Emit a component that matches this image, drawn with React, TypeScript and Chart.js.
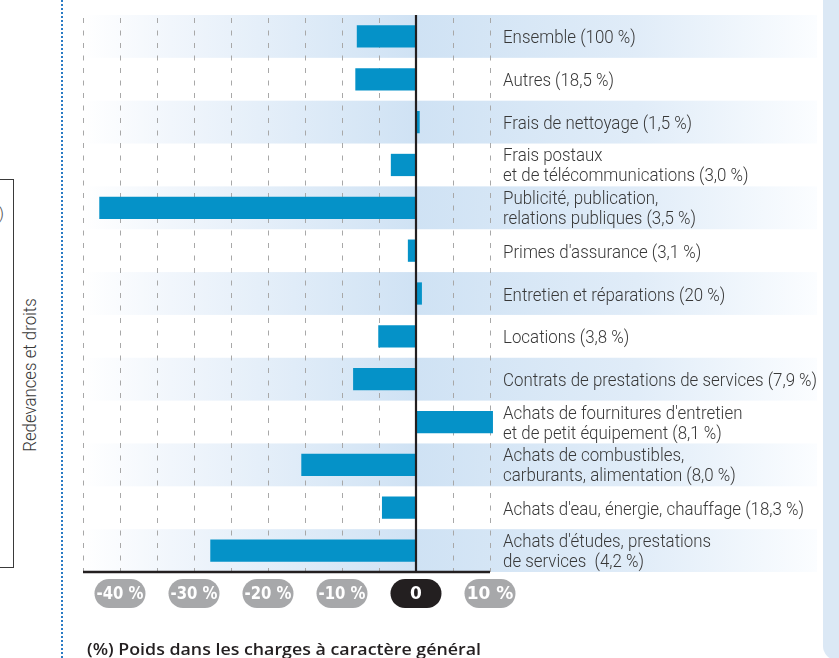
import React, { useEffect, useRef } from 'react';
import { Chart, registerables } from 'chart.js';

Chart.register(...registerables);

const categories: string[][] = [
  ['Ensemble (100 %)'],
  ['Autres (18,5 %)'],
  ['Frais de nettoyage (1,5 %)'],
  ['Frais postaux', 'et de télécommunications (3,0 %)'],
  ['Publicité, publication,', 'relations publiques (3,5 %)'],
  ["Primes d'assurance (3,1 %)"],
  ['Entretien et réparations (20 %)'],
  ['Locations (3,8 %)'],
  ['Contrats de prestations de services (7,9 %)'],
  ["Achats de fournitures d'entretien", 'et de petit équipement (8,1 %)'],
  ['Achats de combustibles,', 'carburants, alimentation (8,0 %)'],
  ["Achats d'eau, énergie, chauffage (18,3 %)"],
  ["Achats d'études, prestations", 'de services  (4,2 %)'],
];

const values: number[] = [-8.0, -8.2, 0.5, -3.4, -42.8, -1.1, 0.8, -5.1, -8.5, 10.4, -15.5, -4.6, -27.8];

const tickValues: number[] = [-40, -30, -20, -10, 0, 10];
const tickLabels: string[] = ['-40 %', '-30 %', '-20 %', '-10 %', '0', '10 %'];
const gridValues: number[] = [-45, -40, -35, -30, -25, -20, -15, -10, -5, 5, 10];
const axisMin = -45;
const axisMax = 10;
const title = '(%) Poids dans les charges à caractère général';
const sideLabel = 'Redevances et droits';

const LABEL_FONT = '300 17.5px Roboto';
const LABEL_SX = 0.965;
const TEXT_COLOR = '#383838';

const decorPlugin = {
  id: 'decor',
  beforeDatasetsDraw(chart: any) {
    const { ctx, chartArea, scales } = chart;
    const x = scales.x;
    const y = scales.y;
    const rowH = Math.abs(y.getPixelForValue(1) - y.getPixelForValue(0));
    const bandLeft = chartArea.left;
    const bandRight = chart.width - 22;
    const zeroPx = x.getPixelForValue(0);
    const grad = ctx.createLinearGradient(bandLeft, 0, bandRight, 0);
    const zf = (zeroPx - bandLeft) / (bandRight - bandLeft);
    grad.addColorStop(0, '#ffffff');
    grad.addColorStop(0.12, '#f1f6fc');
    grad.addColorStop(zf, '#cfe2f4');
    grad.addColorStop(zf + 0.3, '#e0ecf8');
    grad.addColorStop(1, '#fbfdff');
    ctx.save();
    for (let i = 0; i < categories.length; i += 2) {
      const cy = y.getPixelForValue(i);
      ctx.fillStyle = grad;
      ctx.fillRect(bandLeft, cy - rowH / 2, bandRight - bandLeft, rowH);
    }
    ctx.strokeStyle = '#a8a8a8';
    ctx.lineWidth = 1;
    ctx.setLineDash([5, 7.5]);
    for (const v of gridValues) {
      const px = Math.round(x.getPixelForValue(v)) + 0.5;
      ctx.beginPath();
      ctx.moveTo(px, chartArea.top + 3);
      ctx.lineTo(px, chartArea.bottom);
      ctx.stroke();
    }
    ctx.restore();
  },
  afterDatasetsDraw(chart: any) {
    const { ctx, chartArea, scales } = chart;
    const x = scales.x;
    const y = scales.y;
    const zeroPx = x.getPixelForValue(0);
    const rightPx = x.getPixelForValue(axisMax);
    ctx.save();
    // zero axis
    ctx.strokeStyle = '#231f20';
    ctx.lineWidth = 2.2;
    ctx.beginPath();
    ctx.moveTo(zeroPx, chartArea.top);
    ctx.lineTo(zeroPx, chartArea.bottom + 1);
    ctx.stroke();
    // bottom axis
    ctx.lineWidth = 2.5;
    ctx.beginPath();
    ctx.moveTo(chartArea.left, chartArea.bottom);
    ctx.lineTo(rightPx, chartArea.bottom);
    ctx.stroke();

    // category labels
    ctx.font = LABEL_FONT;
    ctx.fillStyle = TEXT_COLOR;
    ctx.textAlign = 'left';
    ctx.textBaseline = 'alphabetic';
    const lx = rightPx + 13;
    categories.forEach((lines, i) => {
      const cy = y.getPixelForValue(i);
      const draw = (t: string, by: number) => {
        ctx.save();
        ctx.translate(lx, by);
        ctx.scale(LABEL_SX, 1);
        ctx.fillText(t, 0, 0);
        ctx.restore();
      };
      if (lines.length === 1) {
        draw(lines[0], cy + 7);
      } else {
        draw(lines[0], cy - 3.5);
        draw(lines[1], cy + 16.5);
      }
    });

    // tick pills
    const pw = 51;
    const ph = 29;
    const pcy = chartArea.bottom + 21.5;
    tickValues.forEach((v, i) => {
      const cx = x.getPixelForValue(v);
      ctx.fillStyle = v === 0 ? '#231f20' : '#a7a8aa';
      ctx.beginPath();
      ctx.roundRect(cx - pw / 2, pcy - ph / 2, pw, ph, ph / 2);
      ctx.fill();
      ctx.fillStyle = '#ffffff';
      ctx.font = 'bold 17px "DejaVu Sans"';
      ctx.textAlign = 'center';
      ctx.textBaseline = 'middle';
      ctx.fillText(tickLabels[i], cx, pcy + 1, 47);
    });

    // title
    ctx.fillStyle = '#231f20';
    ctx.font = '600 17px "Open Sans"';
    ctx.textAlign = 'left';
    ctx.textBaseline = 'alphabetic';
    const tw = ctx.measureText(title).width;
    ctx.save();
    ctx.translate(87, 655);
    ctx.scale(394 / tw, 1);
    ctx.fillText(title, 0, 0);
    ctx.restore();
    ctx.restore();
  },
};

export default function App() {
  const canvasRef = useRef<HTMLCanvasElement | null>(null);

  useEffect(() => {
    const canvas = canvasRef.current;
    if (!canvas) return;
    const chart = new Chart(canvas, {
      type: 'bar',
      data: {
        labels: categories.map((c) => c.join(' ')),
        datasets: [
          {
            data: values,
            backgroundColor: '#0592c8',
            barPercentage: 0.52,
            categoryPercentage: 1,
            borderWidth: 0,
            clip: false,
          } as any,
        ],
      },
      options: {
        indexAxis: 'y',
        animation: false,
        responsive: false,
        devicePixelRatio: 1,
        layout: { padding: { left: 83, right: 349, top: 15, bottom: 86 } },
        plugins: { legend: { display: false }, tooltip: { enabled: false } },
        scales: {
          x: { type: 'linear', min: axisMin, max: axisMax, display: false },
          y: { type: 'category', display: false },
        },
      },
      plugins: [decorPlugin],
    });
    return () => chart.destroy();
  }, []);

  return (
    <div style={{ position: 'absolute', left: 0, top: 0, width: 839, height: 658, overflow: 'hidden', background: '#ffffff' }}>
      <div style={{ position: 'absolute', left: 823, top: 0, width: 30, height: 660, background: '#dbe8f5', borderBottomLeftRadius: 14 }} />
      <div style={{ position: 'absolute', left: -20, top: 179, width: 32, height: 387, border: '1.5px solid #3a3a3a' }} />
      <div style={{ position: 'absolute', left: -14, top: 203, font: '300 17px Roboto', color: '#555' }}>%)</div>
      <div
        style={{
          position: 'absolute',
          left: 30,
          top: 375,
          transform: 'translate(-50%, -50%) rotate(-90deg) scaleX(0.96)',
          font: '300 17.5px Roboto',
          color: TEXT_COLOR,
          whiteSpace: 'nowrap',
        }}
      >
        {sideLabel}
      </div>
      <div style={{ position: 'absolute', left: 61, top: 0, width: 0, height: 658, borderLeft: '2.5px dotted #2b7bc4' }} />
      <canvas ref={canvasRef} width={839} height={658} style={{ position: 'absolute', left: 0, top: 0, width: 839, height: 658 }} />
    </div>
  );
}
